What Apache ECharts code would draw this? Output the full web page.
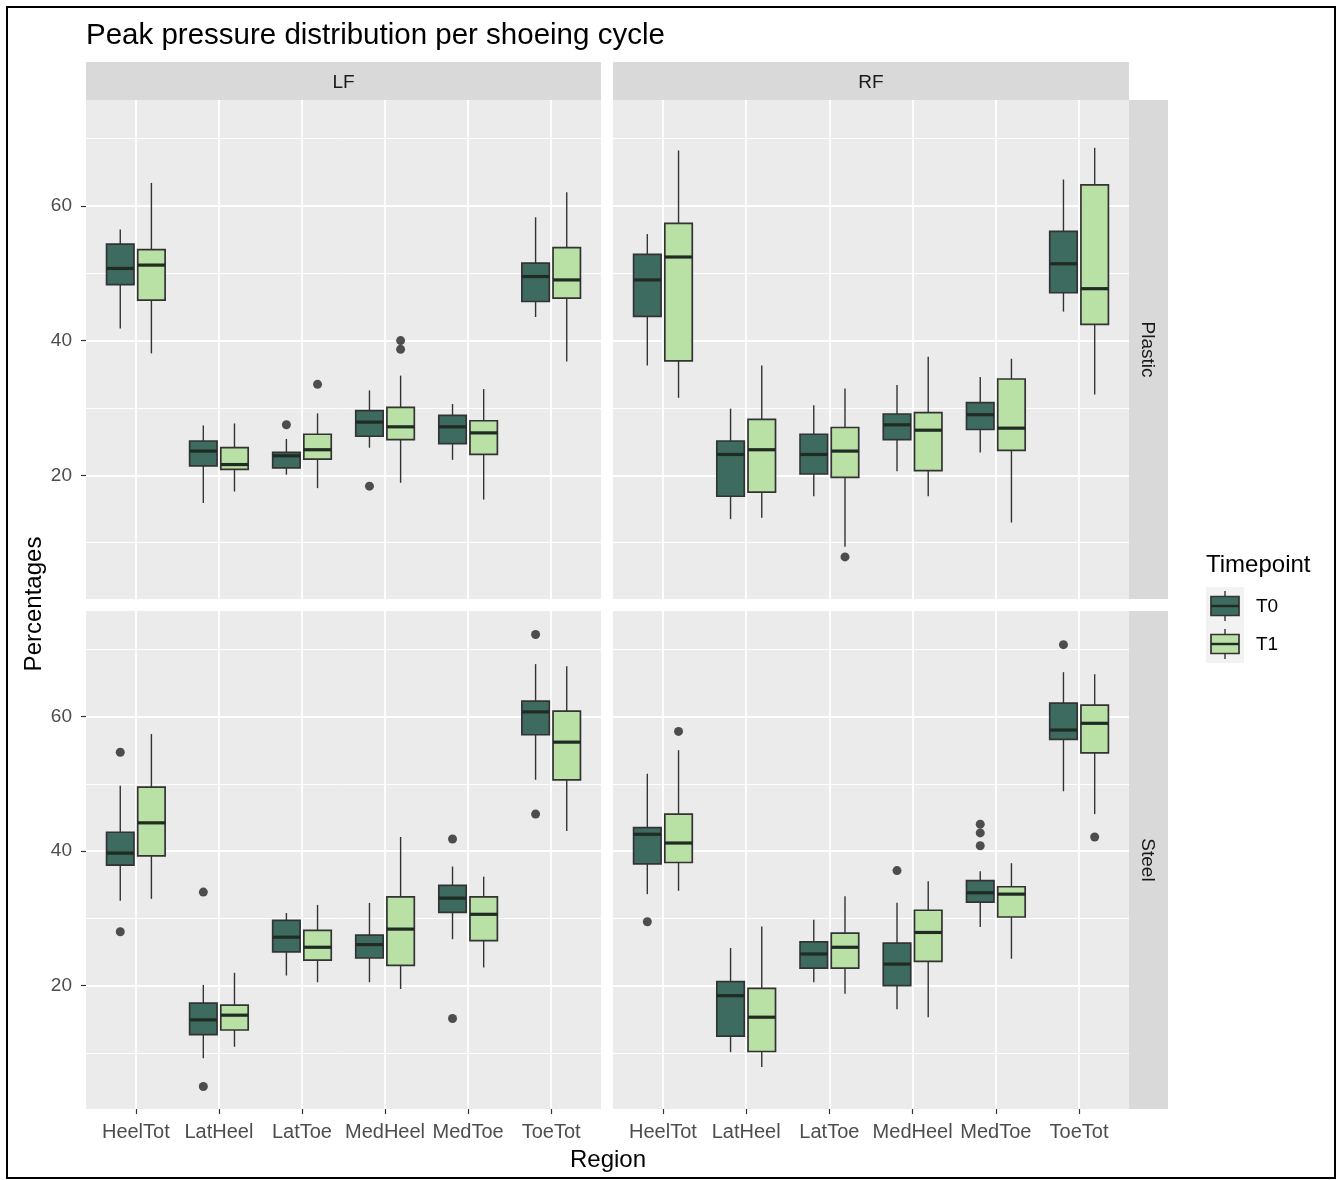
<!DOCTYPE html>
<html>
<head>
<meta charset="utf-8">
<title>Peak pressure distribution per shoeing cycle</title>
<script src="https://cdn.jsdelivr.net/npm/echarts@6/dist/echarts.min.js"></script>
<style>
  html, body { margin: 0; padding: 0; background: #fff; }
  #chart { width: 1337px; height: 1180px; }
</style>
</head>
<body>
<div id="chart"></div>
<script>
// categories + groups
const regions = ['HeelTot', 'LatHeel', 'LatToe', 'MedHeel', 'MedToe', 'ToeTot']
const timepoints = ['T0', 'T1']
const yTickValues = [20, 40, 60]
const yMinorValues = [10, 30, 50, 70]

// box stats per region: [lower whisker, Q1, median, Q3, upper whisker]
const lfPlasticT0 = [[41.8, 48.3, 50.7, 54.3, 56.5], [15.9, 21.4, 23.6, 25.1, 27.4], [20.1, 21.1, 22.9, 23.4, 25.4], [24.1, 25.8, 27.9, 29.6, 32.6], [22.3, 24.7, 27.2, 28.9, 30.6], [43.5, 45.8, 49.5, 51.5, 58.3]]
const lfPlasticT1 = [[38.1, 46.0, 51.2, 53.5, 63.4], [17.6, 20.9, 21.6, 24.1, 27.7], [18.1, 22.4, 23.8, 26.1, 29.2], [18.9, 25.3, 27.2, 30.1, 34.8], [16.4, 23.1, 26.3, 28.1, 32.8], [36.9, 46.3, 49.0, 53.8, 62.0]]
const rfPlasticT0 = [[36.3, 43.6, 49.0, 52.8, 55.8], [13.5, 16.9, 23.1, 25.1, 29.9], [16.9, 20.2, 23.1, 26.1, 30.4], [20.6, 25.3, 27.5, 29.1, 33.4], [23.4, 26.8, 29.0, 30.8, 34.6], [44.3, 47.1, 51.4, 56.2, 63.9]]
const rfPlasticT1 = [[31.5, 37.0, 52.4, 57.4, 68.2], [13.7, 17.5, 23.8, 28.3, 36.3], [9.4, 19.7, 23.6, 27.1, 32.9], [16.9, 20.7, 26.7, 29.3, 37.6], [13.0, 23.7, 27.0, 34.3, 37.3], [32.0, 42.4, 47.7, 63.1, 68.6]]
const lfSteelT0 = [[32.6, 37.9, 39.7, 42.8, 49.7], [9.2, 12.7, 14.9, 17.4, 20.1], [21.5, 25.0, 27.2, 29.7, 30.8], [20.5, 24.1, 26.1, 27.5, 32.3], [26.9, 30.9, 33.0, 34.9, 37.7], [50.6, 57.3, 60.7, 62.3, 67.8]]
const lfSteelT1 = [[32.9, 39.3, 44.2, 49.5, 57.4], [10.9, 13.4, 15.6, 17.1, 21.9], [20.5, 23.8, 25.7, 28.2, 32.0], [19.5, 23.0, 28.4, 33.2, 42.1], [22.7, 26.7, 30.6, 33.2, 36.2], [43.0, 50.6, 56.2, 60.8, 67.5]]
const rfSteelT0 = [[33.6, 38.1, 42.5, 43.5, 51.5], [10.1, 12.5, 18.5, 20.6, 25.6], [20.5, 22.6, 24.7, 26.5, 29.8], [16.5, 20.0, 23.2, 26.3, 32.3], [28.7, 32.4, 33.8, 35.6, 37.0], [48.9, 56.6, 58.0, 62.0, 66.6]]
const rfSteelT1 = [[34.1, 38.3, 41.2, 45.5, 55.0], [7.9, 10.2, 15.3, 19.6, 28.8], [18.8, 22.6, 25.7, 27.8, 33.3], [15.3, 23.6, 27.9, 31.2, 35.5], [24.0, 30.2, 33.6, 34.7, 38.2], [45.5, 54.6, 59.0, 61.7, 66.3]]

// outliers: [region index, value]
const lfPlasticT0Out = [[2, 27.5], [3, 18.4]]
const lfPlasticT1Out = [[2, 33.5], [3, 40.0], [3, 38.7]]
const rfPlasticT0Out = []
const rfPlasticT1Out = [[2, 7.9]]
const lfSteelT0Out = [[0, 54.7], [0, 28.0], [1, 33.9], [1, 5.0], [4, 41.8], [4, 15.1], [5, 72.2], [5, 45.5]]
const lfSteelT1Out = []
const rfSteelT0Out = [[0, 29.5], [3, 37.1], [4, 44.0], [4, 42.7], [4, 40.8], [5, 70.7]]
const rfSteelT1Out = [[0, 57.8], [5, 42.1]]

const fills = ['#3D6B60', '#B9E0A5']
const outline = '#333333'
const font = '"Liberation Sans", Arial, sans-serif'
const dodge = [-0.1875, 0.1875]
const boxWidth = 0.33
const yMin = 1.65
const yMax = 75.7

const panels = [
  { foot: 'LF', shoe: 'Plastic', left: 86, top: 100, width: 515, height: 499, boxes: [lfPlasticT0, lfPlasticT1], outs: [lfPlasticT0Out, lfPlasticT1Out], yLab: true, xLab: false },
  { foot: 'RF', shoe: 'Plastic', left: 613, top: 100, width: 516, height: 499, boxes: [rfPlasticT0, rfPlasticT1], outs: [rfPlasticT0Out, rfPlasticT1Out], yLab: false, xLab: false },
  { foot: 'LF', shoe: 'Steel', left: 86, top: 611, width: 515, height: 498, boxes: [lfSteelT0, lfSteelT1], outs: [lfSteelT0Out, lfSteelT1Out], yLab: true, xLab: true },
  { foot: 'RF', shoe: 'Steel', left: 613, top: 611, width: 516, height: 498, boxes: [rfSteelT0, rfSteelT1], outs: [rfSteelT0Out, rfSteelT1Out], yLab: false, xLab: true }
]

const renderBox = (fill) => function (params, api) {
  const x = api.value(0)
  const half = api.size([boxWidth / 2, 0])[0]
  const pLow = api.coord([x, api.value(1)])
  const pQ1 = api.coord([x, api.value(2)])
  const pMed = api.coord([x, api.value(3)])
  const pQ3 = api.coord([x, api.value(4)])
  const pHigh = api.coord([x, api.value(5)])
  return {
    type: 'group',
    children: [
      { type: 'line', shape: { x1: pLow[0], y1: pLow[1], x2: pHigh[0], y2: pHigh[1] }, style: { stroke: outline, lineWidth: 1.4 } },
      { type: 'rect', shape: { x: pQ3[0] - half, y: pQ3[1], width: half * 2, height: pQ1[1] - pQ3[1] }, style: { fill: fill, stroke: outline, lineWidth: 1.7 } },
      { type: 'line', shape: { x1: pMed[0] - half, y1: pMed[1], x2: pMed[0] + half, y2: pMed[1] }, style: { stroke: '#1f2b23', lineWidth: 3.2 } }
    ]
  }
}

const grid = []
const xAxis = []
const yAxis = []
const series = []

panels.forEach((p, i) => {
  grid.push({ left: p.left, top: p.top, width: p.width, height: p.height, show: true, backgroundColor: '#EBEBEB', borderWidth: 0 })
  xAxis.push({
    type: 'value', gridIndex: i, min: 0.4, max: 6.6,
    axisLine: { show: false },
    axisTick: { show: p.xLab, length: 5, customValues: [1, 2, 3, 4, 5, 6], lineStyle: { color: outline, width: 1.2 } },
    axisLabel: {
      show: p.xLab, customValues: [1, 2, 3, 4, 5, 6], margin: 13,
      color: '#4D4D4D', fontSize: 20, fontFamily: font,
      formatter: (v) => regions[Math.round(v) - 1]
    },
    splitLine: { show: true, lineStyle: { color: '#fff', width: 1.8 } }
  })
  // major y axis
  yAxis.push({
    type: 'value', gridIndex: i, min: yMin, max: yMax, position: 'left',
    axisLine: { show: false },
    axisTick: { show: p.yLab, length: 5, customValues: yTickValues, lineStyle: { color: outline, width: 1.2 } },
    axisLabel: { show: p.yLab, customValues: yTickValues, margin: 14, color: '#4D4D4D', fontSize: 19, fontFamily: font },
    splitLine: { show: true, lineStyle: { color: '#fff', width: 1.8 } }
  })
  // minor gridlines
  yAxis.push({
    type: 'value', gridIndex: i, min: yMin, max: yMax, position: 'left',
    axisLine: { show: false },
    axisTick: { show: false, customValues: yMinorValues },
    axisLabel: { show: false, customValues: yMinorValues },
    splitLine: { show: true, lineStyle: { color: '#fff', width: 1 } }
  })

  timepoints.forEach((tp, k) => {
    series.push({
      type: 'custom',
      name: tp,
      xAxisIndex: i,
      yAxisIndex: i * 2,
      renderItem: renderBox(fills[k]),
      encode: { x: 0, y: [1, 2, 3, 4, 5] },
      data: p.boxes[k].map((s, r) => [r + 1 + dodge[k]].concat(s)),
      z: 3
    })
    series.push({
      type: 'scatter',
      xAxisIndex: i,
      yAxisIndex: i * 2,
      symbol: 'circle',
      symbolSize: 9,
      itemStyle: { color: '#262626' },
      data: p.outs[k].map((o) => [o[0] + 1 + dodge[k], o[1]]),
      z: 4
    })
  })
})

// strips, titles, legend
const graphic = []
graphic.push({ type: 'rect', shape: { x: 7, y: 7, width: 1328, height: 1171 }, style: { fill: 'none', stroke: '#000', lineWidth: 2 }, z: 100 })
graphic.push({ type: 'text', x: 86, y: 36, style: { text: 'Peak pressure distribution per shoeing cycle', font: '29.5px ' + font, fill: '#000', verticalAlign: 'middle' } })

panels.slice(0, 2).forEach((p) => {
  graphic.push({ type: 'rect', shape: { x: p.left, y: 62, width: p.width, height: 38 }, style: { fill: '#D9D9D9' } })
  graphic.push({ type: 'text', x: p.left + p.width / 2, y: 83, style: { text: p.foot, font: '19px ' + font, fill: '#1A1A1A', align: 'center', verticalAlign: 'middle' } })
})
panels.filter((p) => p.foot === 'RF').forEach((p) => {
  graphic.push({ type: 'rect', shape: { x: 1129, y: p.top, width: 39, height: p.height }, style: { fill: '#D9D9D9' } })
  graphic.push({ type: 'text', x: 1147, y: p.top + p.height / 2, rotation: -Math.PI / 2, style: { text: p.shoe, font: '19px ' + font, fill: '#1A1A1A', align: 'center', verticalAlign: 'middle' } })
})

graphic.push({ type: 'text', x: 34, y: 604, rotation: Math.PI / 2, style: { text: 'Percentages', font: '24px ' + font, fill: '#000', align: 'center', verticalAlign: 'middle' } })
graphic.push({ type: 'text', x: 608, y: 1160, style: { text: 'Region', font: '24px ' + font, fill: '#000', align: 'center', verticalAlign: 'middle' } })

// legend
graphic.push({ type: 'text', x: 1206, y: 565, style: { text: 'Timepoint', font: '24px ' + font, fill: '#000', verticalAlign: 'middle' } })
timepoints.forEach((tp, k) => {
  const ky = 587 + k * 38
  graphic.push({ type: 'rect', shape: { x: 1206, y: ky, width: 38, height: 38 }, style: { fill: '#F2F2F2' } })
  graphic.push({ type: 'line', shape: { x1: 1225, y1: ky + 4, x2: 1225, y2: ky + 34 }, style: { stroke: outline, lineWidth: 1.4 } })
  graphic.push({ type: 'rect', shape: { x: 1211, y: ky + 9.5, width: 28, height: 19 }, style: { fill: fills[k], stroke: outline, lineWidth: 1.7 } })
  graphic.push({ type: 'line', shape: { x1: 1211, y1: ky + 19, x2: 1239, y2: ky + 19 }, style: { stroke: '#1f2b23', lineWidth: 2.4 } })
  graphic.push({ type: 'text', x: 1256, y: ky + 20, style: { text: tp, font: '19px ' + font, fill: '#000', verticalAlign: 'middle' } })
})

const chart = echarts.init(document.getElementById('chart'))
chart.setOption({
  animation: false,
  backgroundColor: '#fff',
  grid,
  xAxis,
  yAxis,
  series,
  graphic
})
window.addEventListener('resize', () => chart.resize())
</script>
</body>
</html>
